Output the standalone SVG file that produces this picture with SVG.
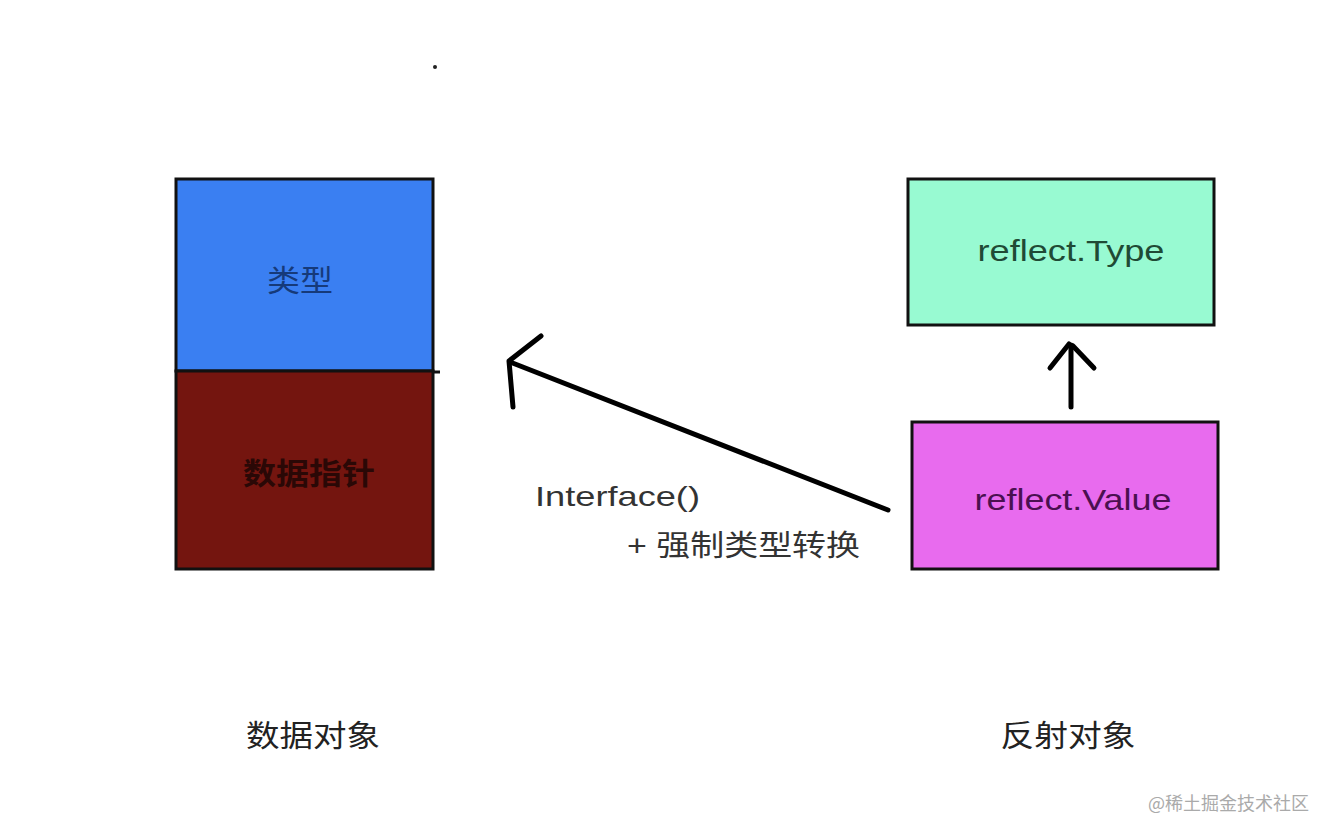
<svg xmlns="http://www.w3.org/2000/svg" width="1332" height="838" viewBox="0 0 1332 838">
<style>
.box{stroke:#111;stroke-width:3}
.t{font-family:"Liberation Sans","Noto Sans CJK SC",sans-serif;text-anchor:middle}
.c{font-family:"Noto Sans CJK SC","Liberation Sans",sans-serif;text-anchor:middle}
.ln{stroke:#000;stroke-width:5;fill:none;stroke-linecap:round;stroke-linejoin:round}
</style>
<rect width="1332" height="838" fill="#fff"/>
<circle cx="435" cy="67" r="2" fill="#222"/>
<g id="node-type">
<rect class="box" x="176" y="179" width="257" height="192" fill="#3a7ff2"/>
<text class="c" x="300" y="291" font-size="30" fill="#163a7a" textLength="66" lengthAdjust="spacingAndGlyphs">类型</text>
</g>
<g id="node-dataptr">
<rect class="box" x="176" y="371" width="257" height="198" fill="#74150f"/>
<line x1="433" y1="372" x2="440" y2="372" stroke="#111" stroke-width="3"/>
<text class="c" x="309" y="484" font-size="30" font-weight="bold" fill="#2a0806" textLength="132" lengthAdjust="spacingAndGlyphs">数据指针</text>
</g>
<g id="node-rtype">
<rect class="box" x="908" y="179" width="306" height="146" fill="#98fad2"/>
<text class="t" x="1071" y="261" font-size="30" fill="#1f4a35" textLength="187" lengthAdjust="spacingAndGlyphs">reflect.Type</text>
</g>
<g id="node-rvalue">
<rect class="box" x="912" y="422" width="306" height="147" fill="#e86bee"/>
<text class="t" x="1073" y="510" font-size="30" fill="#4a1050" textLength="197" lengthAdjust="spacingAndGlyphs">reflect.Value</text>
</g>
<g id="connectors">
<path class="ln" d="M888,510 L510,362"/>
<path class="ln" d="M541,336 L509,361 L513,407" stroke-width="4"/>
<path class="ln" d="M1071,407 L1071,345"/>
<path class="ln" d="M1050,368 L1069,344 M1073,346 L1094,368"/>
</g>
<g id="labels">
<text x="535" y="506" font-family="Liberation Sans, sans-serif" font-size="28" fill="#333" textLength="165" lengthAdjust="spacingAndGlyphs">Interface()</text>
<text x="627" y="556" font-family="Liberation Sans,'Noto Sans CJK SC',sans-serif" font-size="29" fill="#333" textLength="233" lengthAdjust="spacingAndGlyphs">+ 强制类型转换</text>
<text class="c" x="313" y="746" font-size="30" fill="#222" textLength="134" lengthAdjust="spacingAndGlyphs">数据对象</text>
<text class="c" x="1068" y="746" font-size="30" fill="#222" textLength="135" lengthAdjust="spacingAndGlyphs">反射对象</text>
<text x="1148" y="810" font-family="'Noto Sans CJK SC',sans-serif" font-size="18" fill="#aaa">@稀土掘金技术社区</text>
</g>
</svg>
